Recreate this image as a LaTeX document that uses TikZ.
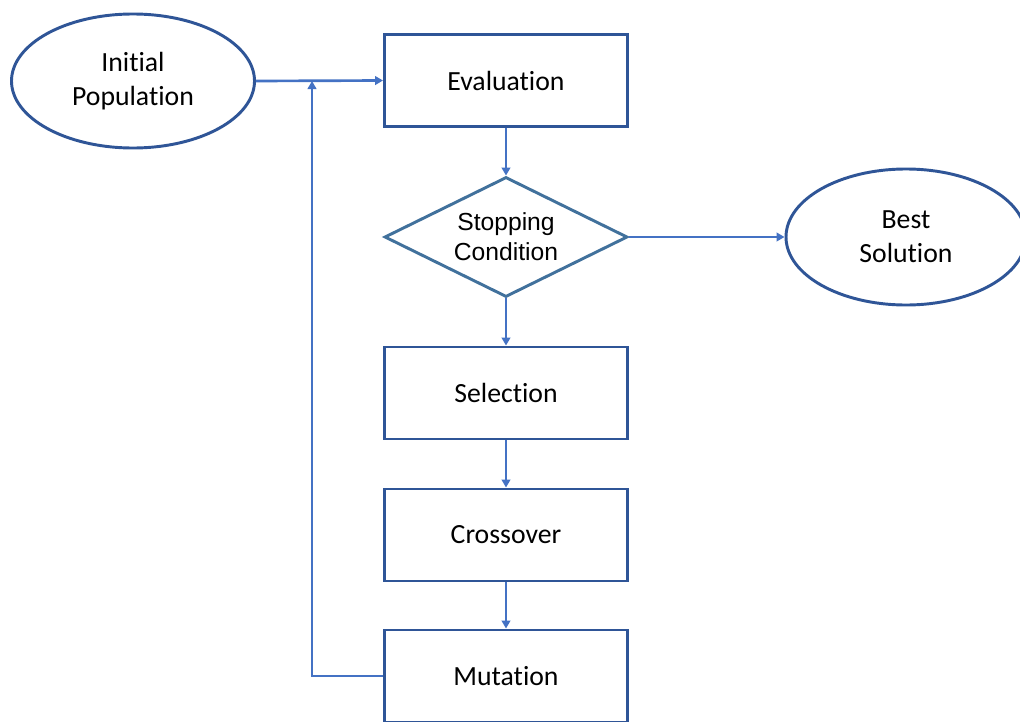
\documentclass[tikz,border=0pt]{standalone}
\usepackage{fontspec}
\setmainfont{Carlito}[Ligatures=NoCommon]
\newfontfamily\arialfont{Liberation Sans}
\usetikzlibrary{shapes.geometric,arrows.meta}
\definecolor{boxblue}{RGB}{47,85,151}
\definecolor{arrblue}{RGB}{68,114,196}
\definecolor{diablue}{RGB}{65,113,156}
\tikzset{
  pbox/.style={draw=boxblue, line width=2.2pt, minimum width=243*0.75pt, minimum height=92*0.75pt, inner sep=0pt, font=\fontsize{20.8}{25.5}\selectfont, align=center},
  pell/.style={ellipse, draw=boxblue, line width=2.2pt, minimum width=243*0.75pt, minimum height=134*0.75pt, inner sep=0pt, font=\fontsize{20.8}{25.5}\selectfont, align=center},
  pdia/.style={diamond, draw=diablue, line width=2.2pt, minimum width=243*0.75pt, minimum height=120*0.75pt, inner sep=0pt, aspect=2, font=\arialfont\fontsize{18.5}{22.5}\selectfont, align=center},
  parr/.style={draw=arrblue, line width=2pt, -{Triangle[length=6pt,width=6.5pt]}}
}
\begin{document}
\begin{tikzpicture}[x=0.75pt, y=-0.75pt]
\clip (0,0) rectangle (1020,721);
\fill[white] (0,0) rectangle (1020,721);
\node[pell] (init) at (133,81) {Initial\\Population};
\node[pbox] (eval) at (506,80.5) {Evaluation};
\node[pdia] (stop) at (506,237) {Stopping\\Condition};
\node[pell, minimum width=240*0.75pt, minimum height=136*0.75pt] (best) at (906,237) {Best\\Solution};
\node[pbox] (sel) at (506,393) {Selection};
\node[pbox] (cross) at (506,535) {Crossover};
\node[pbox] (mut) at (506,676) {Mutation};
\coordinate (join) at (312,81);
\draw[parr] (init.east) -- (eval.west);
\draw[parr] (eval.south) -- (stop.north);
\draw[parr] (stop.east) -- (best.west);
\draw[parr] (stop.south) -- (sel.north);
\draw[parr] (sel.south) -- (cross.north);
\draw[parr] (cross.south) -- (mut.north);
\draw[parr] (mut.west) -| (join);
\end{tikzpicture}
\end{document}
